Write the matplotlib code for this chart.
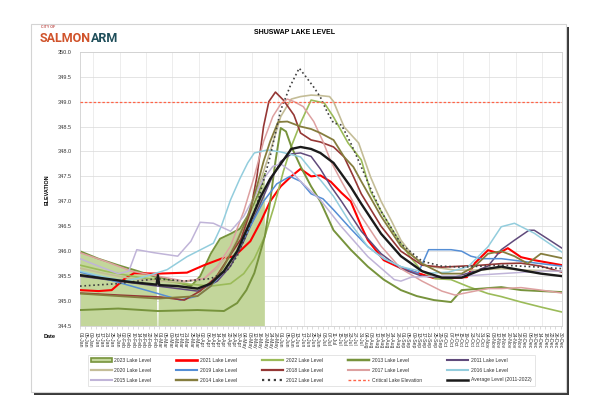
import matplotlib
matplotlib.use("Agg")
import matplotlib.pyplot as plt
from matplotlib.patches import Rectangle, Patch
from matplotlib.lines import Line2D
import numpy as np
import pandas as pd

plt.rcParams["font.family"] = ["Liberation Sans", "DejaVu Sans"]

# day-of-year / lake level (m)
# 2023 has a blank on Feb 29 that the original drops to zero
d23 = [1, 15, 30, 45, 59, 60, 61, 75, 85, 92, 100, 107, 115, 122, 130, 136, 141]
v23 = [346.0, 345.85, 345.72, 345.6, 345.48, 344.0, 345.48, 345.38, 345.3, 345.5,
       345.95, 346.25, 346.35, 346.45, 346.8, 347.15, 347.55]

d21 = [1, 15, 25, 35, 42, 60, 82, 95, 108, 118, 130, 138, 145, 153, 161, 168, 176, 183,
       191, 199, 206, 214, 219, 231, 244, 257, 269, 282, 294, 300, 310, 318, 325, 335, 345, 366]
v21 = [345.22, 345.2, 345.22, 345.45, 345.56, 345.55, 345.57, 345.72, 345.85, 345.9,
       346.2, 346.6, 347.0, 347.3, 347.5, 347.65, 347.5, 347.52, 347.39, 347.17,
       347.0, 346.5, 346.22, 345.82, 345.66, 345.56, 345.46, 345.46, 345.48, 345.76,
       346.02, 345.96, 346.06, 345.88, 345.82, 345.72]

d22 = [1, 20, 40, 60, 80, 100, 115, 125, 133, 141, 148, 155, 161, 168, 176, 186, 193,
       204, 214, 221, 229, 237, 244, 252, 260, 270, 282, 295, 310, 320, 335, 350, 366]
v22 = [345.72, 345.6, 345.5, 345.42, 345.35, 345.3, 345.35, 345.55, 345.85, 346.3,
       346.9, 347.6, 348.1, 348.57, 349.03, 348.97, 348.69, 348.17, 347.83, 347.2,
       346.8, 346.45, 346.16, 345.85, 345.6, 345.45, 345.43, 345.29, 345.15, 345.09,
       344.98, 344.88, 344.78]

d13 = [1, 30, 60, 90, 110, 120, 127, 133, 141, 145, 149, 153, 157, 161, 168, 176, 183,
       193, 206, 219, 231, 244, 256, 269, 282, 290, 305, 320, 335, 350, 366]
v13 = [344.82, 344.85, 344.8, 344.82, 344.8, 344.96, 345.22, 345.56, 346.3, 347.0,
       347.8, 348.47, 348.4, 348.1, 347.7, 347.3, 347.0, 346.42, 346.03, 345.69,
       345.43, 345.22, 345.1, 345.02, 344.98, 345.22, 345.25, 345.28, 345.22, 345.2, 345.18]

d11 = [1, 30, 60, 90, 105, 115, 125, 135, 145, 153, 161, 168, 176, 183, 191, 199, 214,
       229, 244, 260, 282, 300, 310, 320, 330, 341, 345, 355, 366]
v11 = [345.5, 345.4, 345.3, 345.2, 345.4, 345.7, 346.2, 346.8, 347.4, 347.8, 347.95,
       347.97, 347.9, 347.65, 347.3, 347.0, 346.4, 345.95, 345.65, 345.5, 345.46,
       345.6, 345.7, 346.03, 346.22, 346.42, 346.42, 346.25, 346.06]

d20 = [1, 20, 40, 60, 80, 95, 105, 115, 125, 135, 145, 153, 161, 168, 176, 183, 190,
       193, 201, 212, 221, 229, 237, 244, 254, 264, 285, 300, 320, 340, 366]
v20 = [345.66, 345.55, 345.45, 345.4, 345.38, 345.45, 345.65, 346.0, 346.5, 347.2,
       348.0, 348.7, 349.05, 349.1, 349.13, 349.12, 349.1, 349.0, 348.49, 348.17,
       347.49, 347.0, 346.6, 346.22, 345.88, 345.7, 345.62, 345.62, 345.65, 345.62, 345.6]

d19 = [1, 20, 40, 60, 77, 90, 100, 110, 120, 130, 140, 150, 160, 168, 176, 185, 193,
       206, 219, 231, 244, 257, 262, 265, 282, 290, 297, 305, 320, 335, 350, 366]
v19 = [345.58, 345.45, 345.3, 345.15, 345.02, 345.1, 345.3, 345.6, 346.0, 346.5,
       347.0, 347.35, 347.5, 347.4, 347.15, 347.05, 346.83, 346.45, 346.09, 345.85,
       345.69, 345.56, 345.85, 346.03, 346.03, 346.0, 345.9, 345.85, 345.85, 345.8,
       345.75, 345.7]

d18 = [1, 30, 62, 80, 92, 104, 113, 123, 130, 135, 140, 144, 149, 155, 163, 168, 176,
       183, 193, 201, 208, 214, 229, 244, 260, 275, 290, 305, 320, 335, 350, 366]
v18 = [345.16, 345.12, 345.08, 345.02, 345.2, 345.48, 345.85, 346.25, 346.8, 347.5,
       348.5, 349.0, 349.19, 349.03, 348.73, 348.37, 348.23, 348.19, 348.09, 347.89,
       347.5, 347.15, 346.5, 346.0, 345.72, 345.68, 345.7, 345.72, 345.75, 345.76,
       345.7, 345.58]

d17 = [1, 20, 40, 60, 80, 95, 105, 115, 125, 133, 140, 147, 153, 158, 163, 170, 178,
       185, 191, 199, 214, 229, 244, 260, 275, 285, 300, 310, 320, 335, 350, 366]
v17 = [345.97, 345.8, 345.6, 345.5, 345.4, 345.45, 345.7, 346.1, 346.8, 347.5, 348.2,
       348.7, 348.95, 349.05, 349.0, 348.9, 348.6, 348.2, 347.8, 347.4, 346.7, 346.1,
       345.65, 345.4, 345.2, 345.12, 345.2, 345.25, 345.25, 345.27, 345.22, 345.16]

d16 = [1, 20, 35, 49, 67, 82, 102, 108, 115, 122, 128, 133, 143, 153, 168, 176, 183,
       193, 206, 219, 231, 244, 265, 280, 295, 310, 320, 330, 345, 366]
v16 = [345.6, 345.48, 345.4, 345.48, 345.63, 345.89, 346.16, 346.5, 347.03, 347.45,
       347.77, 347.97, 348.03, 347.99, 347.89, 347.63, 347.43, 347.1, 346.55, 346.09,
       345.85, 345.69, 345.56, 345.58, 345.69, 346.09, 346.49, 346.56, 346.36, 345.98]

d15 = [1, 15, 30, 38, 44, 57, 75, 85, 92, 102, 115, 125, 133, 140, 147, 153, 161, 168,
       176, 183, 199, 219, 239, 244, 252, 270, 290, 320, 350, 366]
v15 = [345.85, 345.7, 345.55, 345.6, 346.03, 345.97, 345.9, 346.2, 346.58, 346.56,
       346.4, 346.7, 347.1, 347.45, 347.7, 347.75, 347.6, 347.4, 347.2, 347.03, 346.49,
       345.89, 345.43, 345.4, 345.48, 345.5, 345.5, 345.55, 345.6, 345.6]

d14 = [1, 30, 60, 90, 100, 110, 120, 128, 135, 140, 145, 151, 158, 168, 176, 183, 193,
       201, 208, 214, 229, 244, 260, 275, 290, 300, 310, 320, 330, 340, 345, 350, 366]
v14 = [345.15, 345.1, 345.05, 345.1, 345.3, 345.7, 346.2, 346.7, 347.3, 347.8, 348.2,
       348.59, 348.6, 348.5, 348.45, 348.37, 348.23, 347.89, 347.69, 347.4, 346.7,
       346.1, 345.75, 345.55, 345.55, 345.7, 345.95, 346.0, 345.9, 345.75, 345.85,
       345.95, 345.86]

d12 = [1, 30, 59, 80, 100, 112, 120, 128, 136, 145, 153, 160, 167, 172, 178, 183, 188,
       193, 199, 206, 214, 222, 229, 244, 260, 275, 290, 305, 320, 335, 350, 366]
v12 = [345.3, 345.35, 345.45, 345.4, 345.45, 345.6, 345.9, 346.4, 347.03, 347.9,
       348.83, 349.3, 349.67, 349.5, 349.29, 349.09, 348.8, 348.57, 348.53, 348.17,
       347.69, 347.2, 346.8, 346.15, 345.8, 345.7, 345.68, 345.7, 345.72, 345.7,
       345.68, 345.65]

davg = [1, 20, 40, 59, 60, 61, 75, 90, 100, 110, 120, 130, 138, 145, 153, 161, 168,
        176, 183, 193, 199, 206, 214, 229, 244, 260, 275, 290, 305, 320, 335, 350, 366]
vavg = [345.52, 345.45, 345.38, 345.33, 345.52, 345.32, 345.3, 345.25, 345.35, 345.6,
        346.0, 346.6, 347.1, 347.45, 347.75, 348.05, 348.09, 348.05, 347.97, 347.77,
        347.55, 347.29, 346.95, 346.35, 345.9, 345.6, 345.47, 345.47, 345.63, 345.69,
        345.62, 345.55, 345.5]

CRITICAL = 349.0

# (label, days, levels, colour, width, style)
lines = [
    ("2021 Lake Level", d21, v21, "#ff0000", 1.5, "-"),
    ("2022 Lake Level", d22, v22, "#9bbb59", 1.2, "-"),
    ("2013 Lake Level", d13, v13, "#77933c", 1.4, "-"),
    ("2011 Lake Level", d11, v11, "#604a7b", 1.1, "-"),
    ("2020 Lake Level", d20, v20, "#c4bd97", 1.2, "-"),
    ("2019 Lake Level", d19, v19, "#558ed5", 1.1, "-"),
    ("2018 Lake Level", d18, v18, "#953735", 1.2, "-"),
    ("2017 Lake Level", d17, v17, "#dda0a0", 1.1, "-"),
    ("2016 Lake Level", d16, v16, "#93cddd", 1.1, "-"),
    ("2015 Lake Level", d15, v15, "#c0b4d8", 1.1, "-"),
    ("2014 Lake Level", d14, v14, "#857d3e", 1.3, "-"),
    ("2012 Lake Level", d12, v12, "#404040", 1.2, ":"),
]

fig = plt.figure(figsize=(6, 3.96), dpi=100)

# card with shadow
W, H = 600.0, 396.0
fig.patches.append(Rectangle((34 / W, 1 - 395 / H), 535 / W, 368 / H,
                             transform=fig.transFigure, facecolor="#3a3a3a",
                             edgecolor="none", zorder=-2))
fig.patches.append(Rectangle((31 / W, 1 - 392 / H), 535 / W, 368 / H,
                             transform=fig.transFigure, facecolor="white",
                             edgecolor="#d4d4d4", lw=0.8, zorder=-1))

ax = fig.add_axes([80 / W, 1 - 326 / H, 482 / W, 274.3 / H])
ax.set_zorder(2)
ax.set_facecolor("white")

ax.fill_between(d23, 344.0, v23, facecolor="#c3d69b", edgecolor="none", zorder=1)
edge23 = np.where(np.array(v23) > 344.5, v23, np.nan)
ax.plot(d23, edge23, color="#77933c", lw=1.3, zorder=2)

for label, d, v, c, lw, ls in lines:
    ax.plot(d, v, color=c, lw=lw, ls=ls, zorder=3)

ax.axhline(CRITICAL, color="#ff6347", lw=0.9, ls=(0, (2, 1.5)), zorder=3)
ax.plot(davg, vavg, color="#1a1a1a", lw=1.7, zorder=4)

ax.set_ylim(344.5, 350.0)
ax.set_xlim(1, 366)
ax.set_yticks(np.arange(344.5, 350.01, 0.5))
ax.set_yticklabels([f"{t:.1f}" for t in np.arange(344.5, 350.01, 0.5)])

dates = pd.date_range("2024-01-01", periods=366)
xt = list(range(1, 367, 4))
ax.set_xticks(xt)
ax.set_xticklabels([dates[t - 1].strftime("%d-%b") for t in xt], rotation=270,
                   fontsize=3.6, color="#333333")
ax.set_xticks(np.arange(1, 367, 10), minor=True)
ax.tick_params(axis="y", labelsize=4, length=0, pad=6, labelcolor="#333333")
ax.tick_params(axis="x", which="major", length=2, width=0.4, color="#bfbfbf", pad=2)
ax.tick_params(axis="x", which="minor", length=0)
ax.grid(axis="y", which="major", color="#d9d9d9", lw=0.5)
ax.grid(axis="x", which="minor", color="#e6e6e6", lw=0.5)
ax.set_axisbelow(True)
for s in ax.spines.values():
    s.set_color("#d0d0d0")
    s.set_linewidth(0.6)

fig.text(47 / W, 1 - 190 / H, "ELEVATION", rotation=90, fontsize=4,
         fontweight="bold", ha="center", va="center")
fig.text(50 / W, 1 - 337 / H, "Date", fontsize=4, fontweight="bold",
         ha="center", va="center")
fig.text(295 / W, 1 - 32 / H, "SHUSWAP LAKE LEVEL", fontsize=5, fontweight="bold",
         ha="center", va="center")

# logo
fig.text(41 / W, 1 - 27 / H, "CITY OF", fontsize=2.6, fontweight="bold",
         color="#c0504d", ha="left", va="center")
t1 = fig.text(40 / W, 1 - 38 / H, "SALMON", fontsize=9, fontweight="bold",
              color="#d0532b", ha="left", va="center", family=["Roboto", "DejaVu Sans"])
fig.canvas.draw()
bb = t1.get_window_extent()
fig.text(bb.x1 / W, 1 - 38 / H, "ARM", fontsize=9, fontweight="bold",
         color="#1f4e5a", ha="left", va="center", family=["Roboto", "DejaVu Sans"])

# legend, row-major like the original
handles = [Patch(facecolor="#c3d69b", edgecolor="#77933c", lw=1.2)]
labels = ["2023 Lake Level"]
for label, d, v, c, lw, ls in lines:
    handles.append(Line2D([], [], color=c, lw=lw + 0.4, ls=ls))
    labels.append(label)
handles.append(Line2D([], [], color="#ff6347", lw=1.0, ls=(0, (2, 1.5))))
labels.append("Critical Lake Elevation")
handles.append(Line2D([], [], color="#1a1a1a", lw=1.8))
labels.append("Average Level (2011-2022)")

order = [r * 5 + c for c in range(5) for r in range(3)]
leg = fig.legend([handles[i] for i in order], [labels[i] for i in order],
                 loc="lower left", bbox_to_anchor=(85 / W, 8 / H, 452 / W, 30 / H),
                 ncol=5, mode="expand", fontsize=3.6, frameon=True, fancybox=False,
                 edgecolor="#d9d9d9", handlelength=4.2, handleheight=0.8,
                 labelspacing=1.0, borderpad=0.6, handletextpad=0.6)
leg.get_frame().set_linewidth(0.6)
for txt in leg.get_texts():
    txt.set_color("#333333")

fig.savefig("out.png", dpi=100)
